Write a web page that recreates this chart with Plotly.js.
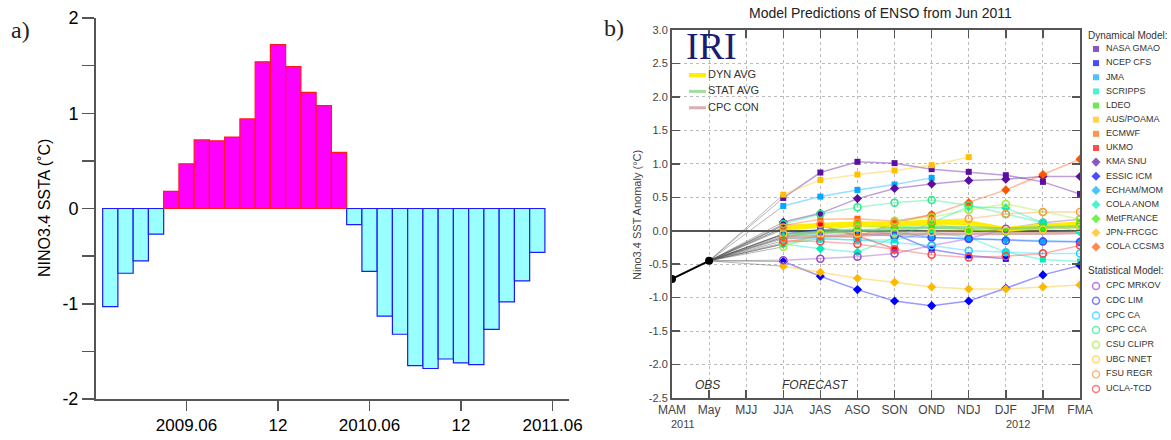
<!DOCTYPE html>
<html><head><meta charset="utf-8">
<script src="https://cdn.plot.ly/plotly-3.0.1.min.js"></script>
<style>html,body{margin:0;padding:0;background:#fff;}#chart{width:1171px;height:440px;}</style>
</head><body><div id="chart"></div>
<script>
// ---------- Panel a data ----------
const monthLabelsA = ['2009.01','2009.02','2009.03','2009.04','2009.05','2009.06','2009.07','2009.08','2009.09','2009.10','2009.11','2009.12',
  '2010.01','2010.02','2010.03','2010.04','2010.05','2010.06','2010.07','2010.08','2010.09','2010.10','2010.11','2010.12',
  '2011.01','2011.02','2011.03','2011.04','2011.05'];
const ninoSSTA = [-1.03,-0.68,-0.55,-0.27,0.18,0.47,0.72,0.71,0.75,0.94,1.54,1.72,
  1.49,1.22,1.08,0.59,-0.17,-0.66,-1.13,-1.32,-1.65,-1.68,-1.58,-1.62,
  -1.64,-1.27,-0.98,-0.76,-0.46];
const tickIdxA = [5,11,17,23,29];
const tickTextA = ['2009.06','12','2010.06','12','2011.06'];
const yTicksA = [-2,-1.5,-1,-0.5,0,0.5,1,1.5,2];
const yTickTextA = ['-2','','-1','','0','','1','','2'];

// ---------- Panel b data ----------
const seasons = ['MAM','May','MJJ','JJA','JAS','ASO','SON','OND','NDJ','DJF','JFM','FMA'];
const obsSeasons = ['MAM','May'];
const obsValues = [-0.72,-0.45];
const fcstSeasons = ['JJA','JAS','ASO','SON','OND','NDJ','DJF','JFM','FMA'];
const yTicksB = [-2.5,-2.0,-1.5,-1.0,-0.5,0.0,0.5,1.0,1.5,2.0,2.5,3.0];
const yTickTextB = ['-2.5','-2.0','-1.5','-1.0','-0.5','0.0','0.5','1.0','1.5','2.0','2.5','3.0'];

// dynamical models
const nasaGmao  = [0.49,0.87,1.03,1.01,0.92,0.88,0.83,0.73,0.55];
const ncepCfs   = [-0.05,0.02,0.00,-0.05,-0.28,-0.37,-0.42,null,null];
const jma       = [0.37,0.51,0.61,0.69,0.79,null,null,null,null];
const scripps   = [-0.20,-0.12,-0.14,-0.14,-0.02,-0.10,-0.32,-0.43,-0.46];
const ldeo      = [0.02,0.05,0.08,0.05,0.05,0.01,-0.01,0.03,0.12];
const ausPoama  = [0.54,0.76,0.84,0.90,0.98,1.10,null,null,null];
const ecmwf     = [0.08,0.17,0.18,0.14,0.24,null,null,null,null];
const ukmo      = [0.08,0.08,-0.08,-0.27,null,null,null,null,null];
const kmaSnu    = [0.13,0.26,0.48,0.63,0.70,0.75,0.77,0.81,0.81];
const essicIcm  = [-0.46,-0.68,-0.88,-1.05,-1.12,-1.05,-0.86,-0.66,-0.52];
const echamMom  = [-0.08,-0.05,0.02,-0.02,-0.10,-0.12,-0.13,-0.15,-0.16];
const colaAnom  = [-0.20,-0.27,-0.32,-0.10,0.12,0.36,0.34,0.12,-0.02];
const metFrance = [-0.10,0.00,0.08,0.05,0.10,0.02,-0.03,0.05,0.10];
const jpnFrcgc  = [-0.53,-0.62,-0.71,-0.77,-0.84,-0.87,-0.87,-0.84,-0.81];
const colaCcsm3 = [-0.18,-0.08,-0.10,0.12,0.24,0.42,0.61,0.84,1.07];
// statistical models
const cpcMrkov  = [-0.44,-0.42,-0.39,-0.34,-0.22,-0.12,0.03,0.12,0.17];
const cdcLim    = [-0.05,-0.02,-0.04,-0.08,-0.10,-0.12,-0.15,-0.16,-0.17];
const cpcCa     = [-0.12,-0.12,-0.14,-0.18,-0.22,-0.30,-0.32,-0.34,-0.34];
const cpcCca    = [0.10,0.25,0.35,0.42,0.46,0.38,0.25,0.12,0.05];
const csuClipr  = [-0.24,-0.05,0.05,0.15,0.20,0.31,0.40,0.28,0.17];
const ubcNnet   = [-0.05,-0.04,-0.04,-0.03,-0.02,0.00,0.00,0.02,0.04];
const fsuRegr   = [0.05,0.10,0.12,0.12,0.15,0.18,0.25,0.28,0.28];
const uclaTcd   = [-0.15,-0.16,-0.20,-0.28,-0.36,-0.40,-0.38,-0.34,-0.22];
// averages
const dynAvg  = [0.04,0.08,0.10,0.10,0.13,0.12,0.02,0.07,0.10];
const statAvg = [-0.06,-0.02,0.00,0.03,0.05,0.05,0.03,0.05,0.06];
const cpcCon  = [-0.10,-0.08,-0.06,-0.05,-0.05,-0.05,-0.05,-0.04,-0.03];

const models = [
  {name:'NASA GMAO', v:nasaGmao, sym:'square', c:'#5a0fa0', g:'dyn'},
  {name:'NCEP CFS', v:ncepCfs, sym:'square', c:'#0000ff', g:'dyn'},
  {name:'JMA', v:jma, sym:'square', c:'#00aaff', g:'dyn'},
  {name:'SCRIPPS', v:scripps, sym:'square', c:'#00eebb', g:'dyn'},
  {name:'LDEO', v:ldeo, sym:'square', c:'#33dd00', g:'dyn'},
  {name:'AUS/POAMA', v:ausPoama, sym:'square', c:'#ffc000', g:'dyn'},
  {name:'ECMWF', v:ecmwf, sym:'square', c:'#ff6600', g:'dyn'},
  {name:'UKMO', v:ukmo, sym:'square', c:'#ff0000', g:'dyn'},
  {name:'KMA SNU', v:kmaSnu, sym:'diamond', c:'#5a0fa0', g:'dyn'},
  {name:'ESSIC ICM', v:essicIcm, sym:'diamond', c:'#0000ff', g:'dyn'},
  {name:'ECHAM/MOM', v:echamMom, sym:'diamond', c:'#00aaff', g:'dyn'},
  {name:'COLA ANOM', v:colaAnom, sym:'diamond', c:'#00eebb', g:'dyn'},
  {name:'MetFRANCE', v:metFrance, sym:'diamond', c:'#33ee00', g:'dyn'},
  {name:'JPN-FRCGC', v:jpnFrcgc, sym:'diamond', c:'#ffb800', g:'dyn'},
  {name:'COLA CCSM3', v:colaCcsm3, sym:'diamond', c:'#ff5500', g:'dyn'},
  {name:'CPC MRKOV', v:cpcMrkov, sym:'circle-open', c:'#9944cc', g:'stat'},
  {name:'CDC LIM', v:cdcLim, sym:'circle-open', c:'#4444ff', g:'stat'},
  {name:'CPC CA', v:cpcCa, sym:'circle-open', c:'#22ccff', g:'stat'},
  {name:'CPC CCA', v:cpcCca, sym:'circle-open', c:'#22ee88', g:'stat'},
  {name:'CSU CLIPR', v:csuClipr, sym:'circle-open', c:'#99ee33', g:'stat'},
  {name:'UBC NNET', v:ubcNnet, sym:'circle-open', c:'#ffcc33', g:'stat'},
  {name:'FSU REGR', v:fsuRegr, sym:'circle-open', c:'#ff9944', g:'stat'},
  {name:'UCLA-TCD', v:uclaTcd, sym:'circle-open', c:'#ff4444', g:'stat'}
];
const avgs = [
  {name:'DYN AVG', v:dynAvg, c:'#ffee00', w:5},
  {name:'STAT AVG', v:statAvg, c:'rgba(120,210,120,0.7)', w:3},
  {name:'CPC CON', v:cpcCon, c:'rgba(200,140,140,0.7)', w:3}
];

function rgba(hex, a){
  const n = parseInt(hex.slice(1),16);
  return 'rgba('+((n>>16)&255)+','+((n>>8)&255)+','+(n&255)+','+a+')';
}
const mSize = s => s==='square' ? 6 : 7;
const mLine = s => s==='circle-open' ? 1.5 : 0;

const W=1171, H=440;
const px = v=>v/W, py = v=>1-v/H;
const traces = [];

// Panel a bars
traces.push({
  type:'bar', x:ninoSSTA.map((_,i)=>i), y:ninoSSTA, width:1, hovertext:monthLabelsA, hoverinfo:'text+y', textposition:'none',
  marker:{color:ninoSSTA.map(v=>v>=0?'#ff00ff':'#99ffff'),
          line:{color:ninoSSTA.map(v=>v>=0?'#ff1a1a':'#1a1aff'), width:1.2}},
  xaxis:'x', yaxis:'y', showlegend:false
});

// Panel b: gray lines from the last observation to each first forecast
const gx=[], gy=[];
models.concat(avgs).forEach(m=>{
  const i = m.v.findIndex(v=>v!==null);
  gx.push(obsSeasons[obsSeasons.length-1], fcstSeasons[i], null);
  gy.push(obsValues[obsValues.length-1], m.v[i], null);
});
traces.push({type:'scatter', mode:'lines', x:gx, y:gy, line:{color:'rgba(90,90,90,0.45)', width:1},
  xaxis:'x2', yaxis:'y2', showlegend:false, hoverinfo:'skip'});
models.forEach(m=>{
  traces.push({type:'scatter', mode:'lines', x:fcstSeasons, y:m.v, line:{color:rgba(m.c,0.4), width:1.5},
    xaxis:'x2', yaxis:'y2', showlegend:false, hoverinfo:'skip'});
});
avgs.forEach(a=>{
  traces.push({type:'scatter', mode:'lines', name:a.name, x:fcstSeasons, y:a.v, line:{color:a.c, width:a.w},
    xaxis:'x2', yaxis:'y2', showlegend:false});
});
traces.push({type:'scatter', mode:'lines+markers', x:obsSeasons, y:obsValues, line:{color:'#000', width:2},
  marker:{color:'#000', size:8}, xaxis:'x2', yaxis:'y2', showlegend:false});
models.forEach(m=>{
  traces.push({type:'scatter', mode:'markers', name:m.name, x:fcstSeasons, y:m.v,
    marker:{symbol:m.sym, color:m.c, size:mSize(m.sym), line:{color:m.c, width:mLine(m.sym)}},
    xaxis:'x2', yaxis:'y2', showlegend:false});
});

// ---------- Key (drawn on a hidden pixel-scaled overlay axis) ----------
const dynModels = models.filter(m=>m.g==='dyn');
const statModels = models.filter(m=>m.g==='stat');
const keyRows = [];
dynModels.forEach((m,i)=>keyRows.push({m, y:49 + i*14.14}));
statModels.forEach((m,i)=>keyRows.push({m, y:286 + i*14.7}));
traces.push({type:'scatter', mode:'markers', x:keyRows.map(()=>1096), y:keyRows.map(r=>r.y),
  marker:{symbol:keyRows.map(r=>r.m.sym), color:keyRows.map(r=>r.m.c), size:keyRows.map(r=>mSize(r.m.sym)),
          line:{color:keyRows.map(r=>r.m.c), width:keyRows.map(r=>mLine(r.m.sym))}},
  xaxis:'x3', yaxis:'y3', showlegend:false, hoverinfo:'skip', cliponaxis:false});
traces.push({type:'scatter', mode:'text', x:keyRows.map(()=>1106), y:keyRows.map(r=>r.y), text:keyRows.map(r=>r.m.name),
  textposition:'middle right', textfont:{size:9, color:'#333'},
  xaxis:'x3', yaxis:'y3', showlegend:false, hoverinfo:'skip', cliponaxis:false});
avgs.forEach((a,i)=>{
  const yy = 75 + i*16.4;
  traces.push({type:'scatter', mode:'lines', x:[689,706], y:[yy,yy], line:{color:a.c, width:a.w>3?4:3},
    xaxis:'x3', yaxis:'y3', showlegend:false, hoverinfo:'skip', cliponaxis:false});
});
traces.push({type:'scatter', mode:'text', x:avgs.map(()=>708), y:avgs.map((a,i)=>75+i*16.4), text:avgs.map(a=>a.name),
  textposition:'middle right', textfont:{size:11, color:'#333'},
  xaxis:'x3', yaxis:'y3', showlegend:false, hoverinfo:'skip', cliponaxis:false});

const ann = (text, x, y, font, extra) => Object.assign({text, x:px(x), y:py(y), xref:'paper', yref:'paper',
  showarrow:false, xanchor:'center', yanchor:'middle', font}, extra||{});
const serif = 'Liberation Serif, Times New Roman, serif';
const annotations = [
  ann('a)', 20, 30, {family:serif, size:24, color:'#222'}),
  ann('b)', 614, 28, {family:serif, size:24, color:'#222'}),
  ann('NINO3.4 SSTA (˚C)', 45, 208, {size:16, color:'#000'}, {textangle:-90}),
  ann('Model Predictions of ENSO from Jun 2011', 880, 13, {size:14, color:'#222'}),
  ann('Nino3.4 SST Anomaly (°C)', 637, 215, {size:11, color:'#444'}, {textangle:-90}),
  ann('IRI', 711, 46, {family:serif, size:38, color:'#1b1b70'}),
  ann('<i>OBS</i>', 707, 385, {size:12, color:'#333'}),
  ann('<i>FORECAST</i>', 815, 385, {size:12, color:'#333'}),
  ann('2011', 683, 424, {size:11, color:'#444'}),
  ann('2012', 1018, 424, {size:11, color:'#444'}),
  ann('Dynamical Model:', 1086, 35, {size:10, color:'#333'}, {xanchor:'left'}),
  ann('Statistical Model:', 1086, 270, {size:10, color:'#333'}, {xanchor:'left'})
];

const layout = {
  width:W, height:H, margin:{l:0,r:0,t:0,b:0,autoexpand:false},
  paper_bgcolor:'#fff', plot_bgcolor:'rgba(0,0,0,0)',
  font:{family:'Liberation Sans, Arial, sans-serif', color:'#000'},
  bargap:0, showlegend:false, hovermode:'closest',
  xaxis:{domain:[px(95.5),px(569)], range:[-0.97,30.08], tickmode:'array', tickvals:tickIdxA, ticktext:tickTextA,
    ticks:'outside', ticklen:10, tickwidth:1.5, tickcolor:'#555', showline:true, linecolor:'#555', linewidth:1.5,
    showgrid:false, zeroline:false, tickfont:{size:17,color:'#000'}, anchor:'y', fixedrange:true},
  yaxis:{domain:[1-399/H, 1-18/H], range:[-2,2], tickmode:'array', tickvals:yTicksA, ticktext:yTickTextA,
    ticks:'outside', ticklen:12, tickwidth:1.5, tickcolor:'#555', showline:true, linecolor:'#555', linewidth:1.5,
    showgrid:false, zeroline:false, tickfont:{size:18,color:'#000'}, anchor:'x', fixedrange:true},
  xaxis2:{domain:[px(672),px(1080)], type:'category', categoryorder:'array', categoryarray:seasons, range:[0,11],
    tickmode:'array', tickvals:seasons, ticktext:seasons,
    ticks:'inside', ticklen:8, tickwidth:1.5, tickcolor:'#555', showline:true, mirror:'allticks', linecolor:'#555', linewidth:2,
    showgrid:true, gridcolor:'#bbb', griddash:'dot', gridwidth:1, zeroline:false, tickfont:{size:12,color:'#444'}, anchor:'y2', fixedrange:true},
  yaxis2:{domain:[1-398/H, 1-30/H], range:[-2.5,3.0], tickmode:'array', tickvals:yTicksB, ticktext:yTickTextB,
    ticks:'inside', ticklen:8, tickwidth:1.5, tickcolor:'#555', showline:true, mirror:'allticks', linecolor:'#555', linewidth:2,
    showgrid:true, gridcolor:'#bbb', griddash:'dot', gridwidth:1, zeroline:true, zerolinecolor:'#555', zerolinewidth:2,
    tickfont:{size:11,color:'#444'}, anchor:'x2', fixedrange:true},
  xaxis3:{domain:[0,1], range:[0,W], visible:false, fixedrange:true, anchor:'y3'},
  yaxis3:{domain:[0,1], range:[H,0], visible:false, fixedrange:true, anchor:'x3'},
  annotations:annotations
};

Plotly.newPlot('chart', traces, layout, {displayModeBar:false, staticPlot:true});
</script></body></html>
